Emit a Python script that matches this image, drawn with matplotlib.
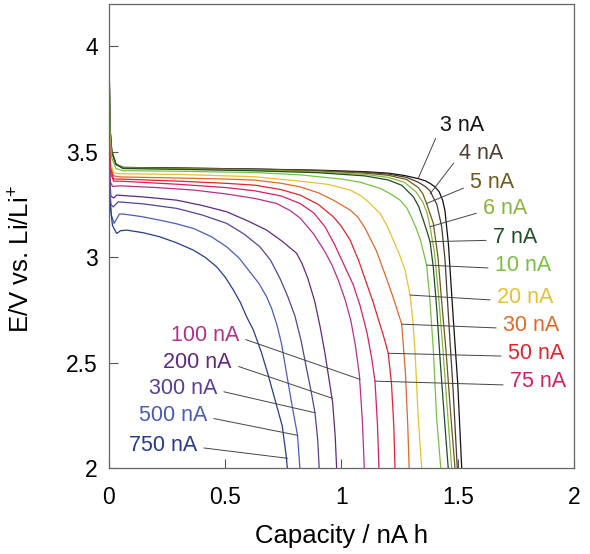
import matplotlib
matplotlib.use("Agg")
import matplotlib.pyplot as plt

plt.rcParams['font.family'] = ['Liberation Sans', 'DejaVu Sans']
plt.rcParams['mathtext.default'] = 'regular'

# discharge curves (capacity / nA h, potential / V)
cap_3 = [0, 0.004, 0.012, 0.03, 0.06, 0.3, 0.6, 0.9, 1.1, 1.2, 1.27, 1.33, 1.36, 1.38, 1.40, 1.42, 1.435, 1.445, 1.46, 1.48, 1.50, 1.517]
volt_3 = [4.0, 3.62, 3.50, 3.44, 3.425, 3.422, 3.418, 3.412, 3.405, 3.398, 3.387, 3.372, 3.362, 3.35, 3.335, 3.31, 3.27, 3.22, 3.06, 2.72, 2.40, 2.0]
cap_4 = [0, 0.004, 0.012, 0.03, 0.06, 0.3, 0.6, 0.9, 1.1, 1.2, 1.28, 1.33, 1.36, 1.38, 1.41, 1.431, 1.445, 1.46, 1.48, 1.498]
volt_4 = [3.98, 3.6, 3.5, 3.44, 3.425, 3.422, 3.418, 3.41, 3.402, 3.394, 3.378, 3.355, 3.335, 3.315, 3.25, 3.144, 2.99, 2.72, 2.37, 2.0]
cap_5 = [0, 0.004, 0.012, 0.03, 0.06, 0.3, 0.6, 0.9, 1.1, 1.2, 1.28, 1.33, 1.35, 1.366, 1.395, 1.415, 1.43, 1.45, 1.47, 1.488]
volt_5 = [3.98, 3.6, 3.5, 3.44, 3.423, 3.42, 3.416, 3.408, 3.398, 3.388, 3.368, 3.33, 3.30, 3.254, 3.16, 3.0, 2.8, 2.55, 2.25, 2.0]
cap_6 = [0, 0.004, 0.012, 0.03, 0.06, 0.3, 0.6, 0.9, 1.1, 1.2, 1.27, 1.32, 1.35, 1.368, 1.381, 1.40, 1.415, 1.435, 1.455, 1.474]
volt_6 = [4.0, 3.62, 3.5, 3.44, 3.422, 3.418, 3.413, 3.404, 3.392, 3.378, 3.355, 3.31, 3.26, 3.21, 3.144, 3.02, 2.85, 2.58, 2.28, 2.0]
cap_7 = [0, 0.004, 0.012, 0.03, 0.06, 0.3, 0.6, 0.9, 1.1, 1.2, 1.26, 1.309, 1.332, 1.352, 1.368, 1.381, 1.395, 1.41, 1.425, 1.445, 1.459]
volt_7 = [4.0, 3.62, 3.5, 3.44, 3.42, 3.416, 3.41, 3.4, 3.385, 3.366, 3.34, 3.286, 3.24, 3.175, 3.12, 3.073, 2.95, 2.75, 2.5, 2.2, 2.0]
cap_10 = [0, 0.004, 0.012, 0.03, 0.06, 0.3, 0.628, 0.822, 1.0, 1.08, 1.166, 1.21, 1.252, 1.28, 1.30, 1.32, 1.34, 1.366, 1.38, 1.395, 1.409, 1.427]
volt_10 = [3.95, 3.58, 3.47, 3.42, 3.41, 3.407, 3.401, 3.39, 3.37, 3.355, 3.326, 3.30, 3.27, 3.235, 3.19, 3.14, 3.08, 2.962, 2.8, 2.56, 2.24, 2.0]
cap_20 = [0, 0.006, 0.02, 0.05, 0.3, 0.628, 0.822, 0.94, 1.037, 1.085, 1.123, 1.166, 1.195, 1.223, 1.25, 1.273, 1.295, 1.307, 1.316, 1.33, 1.345]
volt_20 = [3.7, 3.45, 3.40, 3.395, 3.392, 3.381, 3.36, 3.345, 3.318, 3.29, 3.254, 3.207, 3.15, 3.08, 3.01, 2.94, 2.82, 2.7, 2.56, 2.24, 2.0]
cap_30 = [0, 0.006, 0.02, 0.05, 0.3, 0.5, 0.628, 0.74, 0.822, 0.90, 0.965, 1.037, 1.07, 1.10, 1.15, 1.19, 1.225, 1.259, 1.275, 1.285, 1.291]
volt_30 = [3.65, 3.43, 3.385, 3.38, 3.375, 3.37, 3.365, 3.35, 3.333, 3.305, 3.27, 3.223, 3.19, 3.14, 3.03, 2.91, 2.80, 2.682, 2.45, 2.2, 2.0]
cap_50 = [0, 0.006, 0.02, 0.05, 0.3, 0.5, 0.628, 0.74, 0.822, 0.90, 0.965, 1.0, 1.037, 1.075, 1.108, 1.135, 1.16, 1.185, 1.201, 1.215, 1.225, 1.23]
volt_50 = [3.6, 3.42, 3.37, 3.37, 3.36, 3.35, 3.341, 3.32, 3.294, 3.25, 3.191, 3.145, 3.081, 2.98, 2.875, 2.79, 2.70, 2.61, 2.544, 2.4, 2.2, 2.0]
cap_75 = [0, 0.006, 0.02, 0.05, 0.3, 0.5, 0.628, 0.74, 0.822, 0.88, 0.929, 0.97, 1.008, 1.05, 1.08, 1.11, 1.13, 1.144, 1.155, 1.161]
volt_75 = [3.55, 3.40, 3.36, 3.36, 3.345, 3.33, 3.314, 3.29, 3.254, 3.21, 3.144, 3.06, 2.97, 2.87, 2.77, 2.64, 2.52, 2.412, 2.2, 2.0]
cap_100 = [0, 0.005, 0.015, 0.05, 0.2, 0.363, 0.50, 0.628, 0.721, 0.78, 0.822, 0.88, 0.929, 0.96, 0.986, 1.015, 1.04, 1.06, 1.077, 1.09, 1.098]
volt_100 = [3.5, 3.36, 3.335, 3.338, 3.33, 3.318, 3.3, 3.278, 3.254, 3.22, 3.185, 3.11, 3.025, 2.96, 2.891, 2.8, 2.70, 2.58, 2.44, 2.22, 2.0]
cap_200 = [0, 0.008, 0.02, 0.033, 0.15, 0.291, 0.40, 0.506, 0.60, 0.678, 0.745, 0.807, 0.83, 0.855, 0.885, 0.908, 0.928, 0.945, 0.962, 0.973, 0.979]
volt_200 = [3.45, 3.29, 3.28, 3.294, 3.285, 3.27, 3.245, 3.215, 3.17, 3.128, 3.075, 3.018, 2.97, 2.90, 2.79, 2.67, 2.55, 2.43, 2.31, 2.15, 2.0]
cap_300 = [0, 0.008, 0.018, 0.04, 0.15, 0.291, 0.40, 0.506, 0.58, 0.649, 0.695, 0.735, 0.77, 0.80, 0.827, 0.85, 0.87, 0.886, 0.898, 0.904]
volt_300 = [3.42, 3.25, 3.238, 3.262, 3.252, 3.231, 3.2, 3.16, 3.11, 3.049, 2.985, 2.90, 2.81, 2.72, 2.60, 2.47, 2.36, 2.262, 2.13, 2.0]
cap_500 = [0, 0.01, 0.022, 0.045, 0.062, 0.14, 0.219, 0.29, 0.363, 0.44, 0.506, 0.56, 0.606, 0.645, 0.678, 0.70, 0.722, 0.742, 0.765, 0.79, 0.811, 0.821]
volt_500 = [3.38, 3.2, 3.16, 3.204, 3.204, 3.192, 3.175, 3.158, 3.136, 3.097, 3.049, 2.995, 2.93, 2.875, 2.812, 2.755, 2.68, 2.59, 2.44, 2.28, 2.155, 2.0]
cap_750 = [0, 0.015, 0.033, 0.05, 0.076, 0.15, 0.219, 0.29, 0.363, 0.415, 0.463, 0.50, 0.535, 0.565, 0.592, 0.621, 0.655, 0.685, 0.715, 0.745, 0.762, 0.767]
volt_750 = [3.3, 3.15, 3.112, 3.125, 3.128, 3.115, 3.096, 3.068, 3.033, 2.998, 2.954, 2.905, 2.844, 2.785, 2.717, 2.654, 2.55, 2.44, 2.32, 2.2, 2.06, 2.0]

labels = ['3 nA', '4 nA', '5 nA', '6 nA', '7 nA', '10 nA', '20 nA', '30 nA', '50 nA', '75 nA',
          '100 nA', '200 nA', '300 nA', '500 nA', '750 nA']
colors = ['#111111', '#4d3b2f', '#6e5a1c', '#8bb43c', '#1f4d24', '#78c043', '#e6c133', '#dd6a2a',
          '#e0242e', '#d42060', '#b5308a', '#5e2a80', '#5a3f94', '#4a5cb8', '#283a8c']
caps = [cap_3, cap_4, cap_5, cap_6, cap_7, cap_10, cap_20, cap_30, cap_50, cap_75,
        cap_100, cap_200, cap_300, cap_500, cap_750]
volts = [volt_3, volt_4, volt_5, volt_6, volt_7, volt_10, volt_20, volt_30, volt_50, volt_75,
         volt_100, volt_200, volt_300, volt_500, volt_750]

# where each leader touches its curve, and where the label sits
leader_x = [1.330, 1.381, 1.366, 1.381, 1.381, 1.366, 1.295, 1.259, 1.201, 1.144, 1.08, 0.962, 0.886, 0.811, 0.769]
leader_y = [3.373, 3.30, 3.254, 3.144, 3.073, 2.962, 2.82, 2.682, 2.544, 2.412, 2.42, 2.33, 2.262, 2.155, 2.046]
text_x = [1.424, 1.505, 1.553, 1.609, 1.652, 1.660, 1.669, 1.695, 1.716, 1.725, 0.559, 0.529, 0.4645, 0.4215, 0.3785]
text_y = [3.626, 3.493, 3.355, 3.232, 3.095, 2.962, 2.810, 2.678, 2.545, 2.408, 2.630, 2.502, 2.379, 2.251, 2.109]

fig = plt.figure(figsize=(5.9, 5.54), dpi=100)
ax = fig.add_axes([0.1847, 0.1552, 0.7882, 0.8376])

for c, v, col in zip(caps, volts, colors):
    ax.plot(c, v, color=col, lw=0.9)

for i, lab in enumerate(labels):
    right = text_x[i] > leader_x[i]
    ax.annotate(lab, xy=(leader_x[i], leader_y[i]), xytext=(text_x[i], text_y[i]),
                ha='left' if right else 'right', va='center', fontsize=15.5, color=colors[i],
                arrowprops=dict(arrowstyle='-', color='#444444', lw=0.7,
                                shrinkA=3, shrinkB=0,
                                relpos=(0, 0.35) if right else (1, 0.4)))

ax.set_xlim(0, 2)
ax.set_ylim(2, 4.2)
ax.set_xticks([0, 0.5, 1, 1.5, 2])
ax.set_xticklabels(['0', '0.5', '1', '1.5', '2'])
ax.set_yticks([2, 2.5, 3, 3.5, 4])
ax.set_yticklabels(['2', '2.5', '3', '3.5', '4'])
ax.tick_params(direction='in', length=6.5, width=0.8, color='#555555', labelsize=16.5)
ax.tick_params(axis='x', pad=13)
ax.tick_params(axis='y', pad=8)
for sp in ax.spines.values():
    sp.set_color('#666666')
    sp.set_linewidth(0.9)

ax.set_xlabel('Capacity / nA h', fontsize=18.5, labelpad=11)
ax.set_ylabel('E/V vs. Li/Li$^{+}$', fontsize=18.5)
ax.yaxis.set_label_coords(-0.16, 0.45)

fig.savefig('out.png', dpi=100)
